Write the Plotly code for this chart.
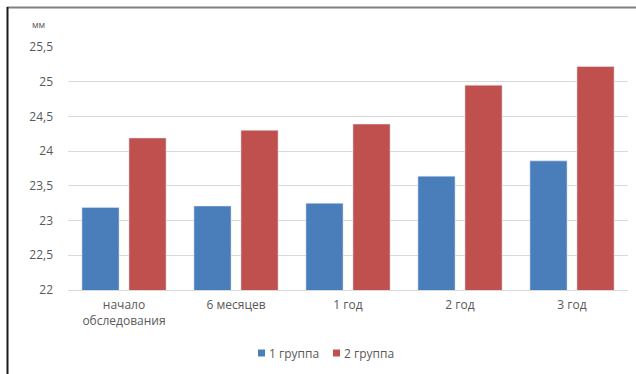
import plotly.graph_objects as go

categories = ["начало<br>обследования", "6 месяцев", "1 год", "2 год", "3 год"]
group1 = [23.19, 23.21, 23.25, 23.64, 23.86]
group2 = [24.19, 24.30, 24.39, 24.95, 25.22]
series_names = ["1 группа", "2 группа"]
ytick_vals = [22, 22.5, 23, 23.5, 24, 24.5, 25, 25.5]
ytick_text = ["22", "22,5", "23", "23,5", "24", "24,5", "25", "25,5"]

BLUE = "#4A7EBB"
RED = "#C0504D"
TXT = "#595959"
FONT = "Open Sans"

fig = go.Figure()
fig.add_trace(go.Bar(x=categories, y=group1, name=series_names[0], marker_color=BLUE))
fig.add_trace(go.Bar(x=categories, y=group2, name=series_names[1], marker_color=RED))

W, H = 636, 374
L, R, T, B = 68, 8, 47, 84
pw, ph = W - L - R, H - T - B

def px_x(p):
    return (p - L) / pw

def px_y(p):
    return (H - B - p) / ph

# manual legend (compact, like the original)
legend_items = [(series_names[0], BLUE, 258), (series_names[1], RED, 333)]
shapes = [
    dict(type="line", xref="paper", yref="paper", x0=px_x(7), x1=px_x(636),
         y0=px_y(7.5), y1=px_y(7.5), line=dict(color="#808080", width=2)),
    dict(type="line", xref="paper", yref="paper", x0=px_x(7.5), x1=px_x(7.5),
         y0=px_y(7), y1=px_y(374), line=dict(color="#1A1A1A", width=2)),
]
annotations = [dict(text="мм", xref="paper", yref="paper", x=px_x(30), y=px_y(25),
                    xanchor="left", yanchor="middle", showarrow=False,
                    font=dict(size=9, color=TXT))]
for name, color, xs in legend_items:
    shapes.append(dict(type="rect", xref="paper", yref="paper",
                       x0=px_x(xs), x1=px_x(xs + 7), y0=px_y(349.5), y1=px_y(356.5),
                       fillcolor=color, line=dict(width=0)))
    annotations.append(dict(text=name, xref="paper", yref="paper", x=px_x(xs + 9),
                            y=px_y(353), xanchor="left", yanchor="middle", showarrow=False,
                            font=dict(size=12, color=TXT)))

fig.update_layout(
    width=W, height=H,
    margin=dict(l=L, r=R, t=T, b=B, pad=0),
    paper_bgcolor="white", plot_bgcolor="white",
    barmode="group", bargap=0.16, bargroupgap=0.21,
    font=dict(family=FONT, size=12, color=TXT),
    showlegend=False,
    xaxis=dict(showgrid=False, showline=True, linecolor="#D9D9D9", linewidth=1,
               ticks="", tickfont=dict(size=12, color=TXT), fixedrange=True,
               ticklabelstandoff=4),
    yaxis=dict(range=[22, 25.5], tickvals=ytick_vals, ticktext=ytick_text,
               showgrid=True, gridcolor="#D9D9D9", gridwidth=1, zeroline=False,
               showline=False, ticks="", ticklen=0, ticklabelstandoff=14,
               tickfont=dict(size=12, color=TXT)),
    annotations=annotations,
    shapes=shapes,
)

fig.write_html("out.html")
